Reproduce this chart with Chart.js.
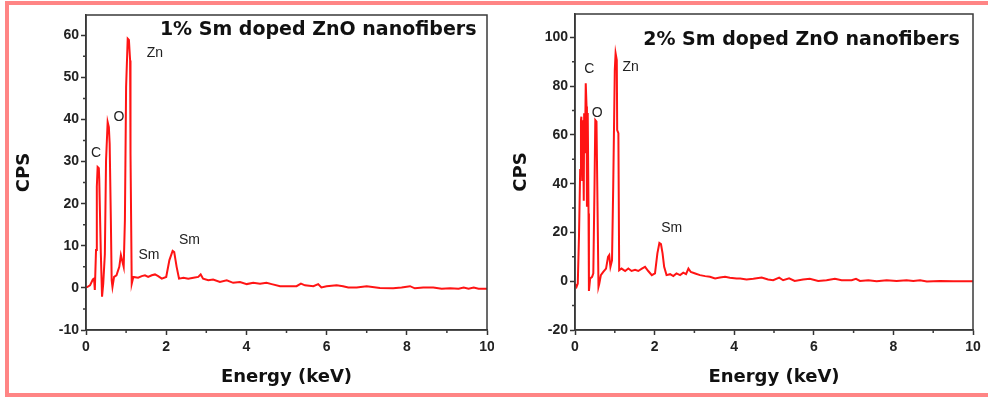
<html>
<head>
<title>EDS spectra</title>
<script src="https://cdn.jsdelivr.net/npm/chart.js@4.4.1/dist/chart.umd.min.js"></script>
<style>
  body { margin: 0; background: #fff; }
  #wrap { position: relative; width: 988px; height: 398px; overflow: hidden; }
  #border { position: absolute; left: 5px; top: 1px; width: 990px; height: 396px;
            border: 4px solid #ff8585; box-sizing: border-box; }
  canvas { position: absolute; top: 0; }
</style>
</head>
<body>
<div id="wrap">
  <div id="border"></div>
  <canvas id="left" width="494" height="398" style="left:0px"></canvas>
  <canvas id="right" width="494" height="398" style="left:494px"></canvas>
</div>
<script>
// 1% Sm doped ZnO nanofibers
const energy1 = [0.00, 0.03, 0.10, 0.17, 0.20, 0.22, 0.25, 0.27, 0.29, 0.32, 0.33, 0.37, 0.40, 0.43, 0.47, 0.50,
  0.54, 0.57, 0.59, 0.62, 0.64, 0.66, 0.70, 0.76, 0.83, 0.87, 0.89, 0.94, 0.97, 1.00, 1.04, 1.07, 1.10, 1.11,
  1.14, 1.18, 1.30, 1.39, 1.47, 1.55, 1.64, 1.72, 1.80, 1.89, 2.00, 2.08, 2.16, 2.20, 2.26, 2.32, 2.43, 2.55,
  2.68, 2.80, 2.86, 2.92, 3.05, 3.17, 3.34, 3.51, 3.67, 3.84, 4.01, 4.17, 4.34, 4.50, 4.63, 4.84, 5.08, 5.25,
  5.36, 5.46, 5.67, 5.79, 5.87, 6.00, 6.25, 6.41, 6.54, 6.75, 7.00, 7.33, 7.66, 7.87, 8.08, 8.20, 8.41, 8.66,
  8.87, 9.08, 9.29, 9.42, 9.54, 9.67, 9.79, 10.00];
const cps1 = [0.2, 0.2, 0.6, 2.0, 2.2, -0.5, 9, 24, 28.7, 28.4, 26, 8.2, -2.1, 1.0, 8, 30.3,
  39.4, 38.2, 34.3, 16, 1.8, 0.2, 2.6, 3.0, 5.0, 7.8, 7.0, 5.0, 16, 47.7, 59.2, 58.9, 54, 31.9,
  1.0, 2.6, 2.4, 2.8, 3.0, 2.6, 3.0, 3.2, 2.8, 2.2, 2.6, 6.6, 8.8, 8.5, 5.0, 2.2, 2.4, 2.2,
  2.4, 2.6, 3.2, 2.2, 1.8, 2.0, 1.4, 1.8, 1.2, 1.4, 0.9, 1.2, 1.0, 1.2, 0.9, 0.4, 0.4, 0.4,
  1.0, 0.6, 0.4, 0.9, 0.1, 0.4, 0.6, 0.4, 0.1, 0.1, 0.4, 0.0, -0.1, 0.1, 0.4, -0.1, 0.1, 0.1,
  -0.2, -0.1, -0.2, 0.1, -0.2, 0.1, -0.2, -0.2];

// 2% Sm doped ZnO nanofibers
const energy2 = [0.00, 0.04, 0.07, 0.10, 0.13, 0.15, 0.16, 0.18, 0.20, 0.22, 0.23, 0.25, 0.27, 0.29, 0.30, 0.32,
  0.34, 0.35, 0.38, 0.43, 0.46, 0.49, 0.51, 0.54, 0.56, 0.59, 0.61, 0.65, 0.71, 0.78, 0.83, 0.86, 0.89, 0.93,
  0.96, 1.00, 1.02, 1.05, 1.06, 1.09, 1.11, 1.17, 1.26, 1.34, 1.42, 1.51, 1.59, 1.68, 1.76, 1.84, 1.93, 2.01,
  2.07, 2.12, 2.16, 2.20, 2.24, 2.30, 2.39, 2.47, 2.55, 2.64, 2.72, 2.79, 2.85, 2.91, 3.02, 3.14, 3.27, 3.39,
  3.52, 3.64, 3.77, 3.89, 4.06, 4.15, 4.31, 4.48, 4.69, 4.85, 4.98, 5.13, 5.23, 5.38, 5.52, 5.73, 5.90, 6.11,
  6.32, 6.53, 6.70, 6.95, 7.06, 7.16, 7.37, 7.58, 7.83, 8.08, 8.33, 8.50, 8.67, 8.84, 9.17, 9.51, 10.00];
const cps2 = [-1.0, -2.3, -1.0, 18.2, 45.6, 66, 67.5, 41.5, 66, 33, 68.9, 52.5, 81.2, 71.7, 30.5, 69,
  27.8, -4.0, 1.1, 1.8, 3.2, 38.7, 66.1, 65.5, 38.7, -2.3, -1.0, 2.5, 3.8, 5.2, 10, 10.7, 5.9, 8.6,
  38.7, 86.7, 93.5, 90.7, 62, 60.7, 4.5, 5.2, 4.2, 5.2, 4.2, 4.7, 4.2, 5.2, 5.9, 4.2, 2.5, 3.2,
  11.4, 15.7, 15.2, 11.4, 5.9, 2.5, 2.9, 2.1, 3.2, 2.5, 3.5, 2.9, 5.2, 3.8, 3.2, 2.5, 2.1, 1.8,
  1.1, 1.5, 1.8, 1.4, 1.1, 1.1, 0.7, 1.0, 1.5, 0.7, 0.4, 1.5, 0.4, 1.2, 0.1, 0.7, 1.0, 0.1,
  0.4, 1.0, 0.4, 0.4, 1.0, 0.1, 0.4, 0.0, 0.4, 0.1, 0.4, 0.1, 0.4, -0.1, 0.1, 0.0, 0.0];

const xTicks = [0, 2, 4, 6, 8, 10];
const xMinor = [1, 3, 5, 7, 9];
const yTicks1 = [-10, 0, 10, 20, 30, 40, 50, 60];
const yMinor1 = [-5, 5, 15, 25, 35, 45, 55];
const yTicks2 = [-20, 0, 20, 40, 60, 80, 100];
const yMinor2 = [-10, 10, 30, 50, 70, 90];

// peak labels, anchored in data units (keV, CPS)
const peaks1 = ['C', 'O', 'Zn', 'Sm', 'Sm'];
const peakE1 = [0.25, 0.82, 1.72, 1.57, 2.58];
const peakV1 = [32, 40.6, 55.8, 7.8, 11.3];
const peaks2 = ['C', 'O', 'Zn', 'Sm'];
const peakE2 = [0.36, 0.56, 1.40, 2.43];
const peakV2 = [87, 69.1, 88, 21.6];

const decor = {
  id: 'decor',
  afterDraw(chart, args, o) {
    const {ctx, chartArea: a, scales: {x, y}} = chart;
    ctx.save();
    ctx.strokeStyle = '#3a3a3a';
    ctx.lineWidth = 1.5;
    ctx.strokeRect(a.left, a.top, a.right - a.left, a.bottom - a.top);
    ctx.beginPath();
    o.xMinor.forEach(v => {
      const px = x.getPixelForValue(v);
      ctx.moveTo(px, a.bottom); ctx.lineTo(px, a.bottom + 3);
    });
    o.yMinor.forEach(v => {
      const py = y.getPixelForValue(v);
      ctx.moveTo(a.left, py); ctx.lineTo(a.left - 3, py);
    });
    ctx.stroke();

    ctx.fillStyle = '#222';
    ctx.font = '14px "Liberation Sans", Arial, sans-serif';
    ctx.textAlign = 'center';
    ctx.textBaseline = 'middle';
    o.labels.forEach((t, i) => {
      ctx.fillText(t, x.getPixelForValue(o.labelE[i]), y.getPixelForValue(o.labelV[i]));
    });

    ctx.fillStyle = '#111';
    ctx.font = 'bold 19px "DejaVu Sans", sans-serif';
    ctx.fillText(o.title, x.getPixelForValue(o.titleE), y.getPixelForValue(o.titleV));
    ctx.restore();
  }
};

function makeChart(id, energy, cps, yMax, yTicks, cfg) {
  const pts = energy.map((e, i) => ({x: e, y: cps[i]}));
  return new Chart(document.getElementById(id), {
    type: 'line',
    data: {
      datasets: [{
        data: pts,
        borderColor: '#ff1414',
        borderWidth: 2,
        pointRadius: 0,
        tension: 0,
        fill: false
      }]
    },
    options: {
      responsive: false,
      animation: false,
      devicePixelRatio: 1,
      layout: { padding: cfg.padding },
      plugins: {
        legend: { display: false },
        tooltip: { enabled: false },
        decor: cfg.decor
      },
      scales: {
        x: {
          type: 'linear',
          min: 0, max: 10,
          afterBuildTicks: s => { s.ticks = xTicks.map(v => ({value: v})); },
          afterFit: s => { s.height = 68; s.paddingLeft = 0; s.paddingRight = 0; },
          grid: { drawOnChartArea: false, tickLength: 5, tickColor: '#333', tickWidth: 1.5 },
          border: { color: '#333', width: 1.5 },
          ticks: { color: '#222', padding: 4, maxRotation: 0,
                   font: { family: '"Liberation Sans", Arial, sans-serif', weight: 'bold', size: 14 } },
          title: { display: true, text: 'Energy (keV)', color: '#111', padding: { bottom: 10 },
                   font: { family: '"DejaVu Sans", sans-serif', weight: 'bold', size: 18 } }
        },
        y: {
          min: yTicks[0], max: yMax,
          afterBuildTicks: s => { s.ticks = yTicks.map(v => ({value: v})); },
          afterFit: s => { s.width = cfg.yWidth; s.paddingTop = 0; s.paddingBottom = 0; },
          grid: { drawOnChartArea: false, tickLength: 5, tickColor: '#333', tickWidth: 1.5 },
          border: { color: '#333', width: 1.5 },
          ticks: { color: '#222', padding: 2,
                   font: { family: '"Liberation Sans", Arial, sans-serif', weight: 'bold', size: 14 } },
          title: { display: true, text: 'CPS', color: '#111', padding: { top: cfg.titlePad },
                   font: { family: '"DejaVu Sans", sans-serif', weight: 'bold', size: 18 } }
        }
      }
    },
    plugins: [decor]
  });
}

makeChart('left', energy1, cps1, 64.8, yTicks1, {
  padding: { top: 15, right: 7, left: 0, bottom: 0 },
  yWidth: 86,
  titlePad: 14,
  decor: { xMinor: xMinor, yMinor: yMinor1, labels: peaks1, labelE: peakE1, labelV: peakV1,
           title: '1% Sm doped ZnO nanofibers', titleE: 5.79, titleV: 61.2 }
});

makeChart('right', energy2, cps2, 109.6, yTicks2, {
  padding: { top: 14, right: 15, left: 0, bottom: 0 },
  yWidth: 81,
  titlePad: 17,
  decor: { xMinor: xMinor, yMinor: yMinor2, labels: peaks2, labelE: peakE2, labelV: peakV2,
           title: '2% Sm doped ZnO nanofibers', titleE: 5.69, titleV: 99 }
});
</script>
</body>
</html>
